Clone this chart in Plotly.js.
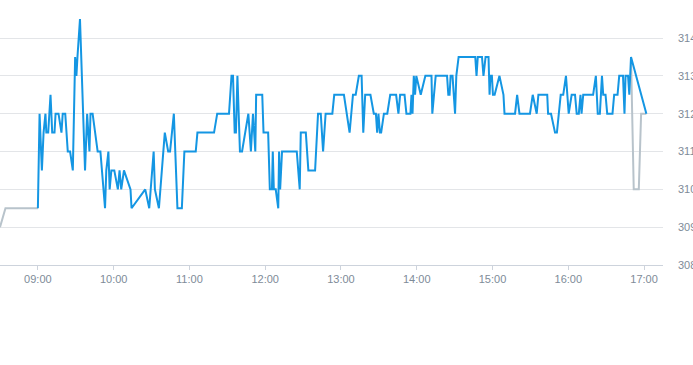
<!DOCTYPE html>
<html>
<head>
<meta charset="utf-8">
<script src="https://cdn.plot.ly/plotly-3.0.1.min.js"></script>
<style>html,body{margin:0;padding:0;background:#fff;}#chart{width:693px;height:365px;}</style>
</head>
<body>
<div id="chart"></div>
<script>
var day = "2024-01-02 ";

var sessionTimes = [
"09:00:00","09:01:20","09:03:10","09:04:30","09:06:00","09:06:40","09:08:10","09:10:00","09:11:20","09:13:10",
"09:14:00","09:16:20","09:18:40","09:19:40","09:21:40","09:23:40","09:25:30","09:27:40","09:29:30","09:30:30",
"09:31:20","09:33:20","09:37:20","09:39:00","09:40:50","09:41:40","09:43:20","09:47:20","09:49:30","09:53:10",
"09:54:10","09:55:50","09:56:50","09:58:10","10:00:30","10:03:20","10:04:40","10:06:00","10:08:10","10:13:20",
"10:14:10","10:25:00","10:28:10","10:31:40","10:32:40","10:35:50","10:40:30","10:43:10","10:44:40","10:47:40",
"10:50:30","10:54:00","10:56:00","11:05:00","11:06:20","11:19:30","11:22:00","11:31:20","11:33:20","11:34:30",
"11:35:50","11:36:50","11:38:00","11:40:00","11:41:40","11:46:40","11:48:40","11:50:20","11:52:10","11:52:50",
"11:57:40","11:58:40","12:02:20","12:03:40","12:05:20","12:06:00","12:06:50","12:08:20","12:10:20","12:11:00",
"12:11:50","12:13:20","12:25:00","12:27:20","12:28:10","12:32:10","12:34:10","12:39:30","12:41:50","12:44:00",
"12:45:50","12:47:50","12:53:10","12:54:40","13:02:20","13:06:50","13:09:30","13:11:40","13:14:10","13:16:20",
"13:17:40","13:19:10","13:23:20","13:26:00","13:27:40","13:28:40","13:29:40","13:30:50","13:31:50","13:34:00",
"13:36:40","13:39:00","13:43:40","13:45:30","13:46:50","13:50:20","13:51:50","13:55:00","13:55:50","13:56:40",
"13:57:40","13:58:40","13:59:40","14:03:10","14:06:50","14:11:40","14:12:20","14:15:00","14:24:00","14:25:00",
"14:26:00","14:26:50","14:28:20","14:30:20","14:31:20","14:33:10","14:46:20","14:47:20","14:48:20","14:51:40",
"14:52:50","14:54:30","14:56:50","14:57:40","14:58:20","14:59:30","15:00:20","15:01:40","15:05:30","15:08:40",
"15:09:30","15:17:50","15:19:30","15:21:20","15:29:40","15:31:50","15:35:00","15:36:20","15:43:20","15:44:00",
"15:46:20","15:49:30","15:51:00","15:54:00","15:56:00","15:58:10","16:00:20","16:02:40","16:05:20","16:06:40",
"16:08:20","16:09:40","16:10:30","16:11:50","16:19:40","16:21:50","16:23:20","16:25:00","16:26:40","16:27:40",
"16:29:30","16:30:50","16:35:00","16:36:20","16:39:00","16:40:20","16:43:20","16:44:30","16:45:20","16:47:20",
"16:48:20","16:49:40","17:01:50"
];
var sessionPrices = [
309.5,312,310.5,311.5,312,311.5,311.5,312.5,311.5,311.5,
312,312,311.5,312,312,311,311,310.5,313.5,313,
313.5,314.5,310.5,312,311,312,312,311,311,309.5,
310.5,311,310,310.5,310.5,310,310.5,310,310.5,310,
309.5,310,309.5,311,310,309.5,311.5,311,311,312,
309.5,309.5,311,311,311.5,311.5,312,312,313,313,
311.5,311.5,313,311,311,312,311,312,311,312.5,
312.5,311.5,311.5,310,310,311,310,310,309.5,311,
310,311,311,310,311.5,311.5,310.5,310.5,312,312,
311,312,312,312.5,312.5,311.5,312.5,312.5,313,313,
311.5,312.5,312.5,312,312,311.5,312,311.5,311.5,312,
312,312.5,312.5,312,312.5,312.5,312,312,312.5,312,
313,312.5,313,312.5,313,313,312,313,313,312.5,
312.5,313,313,312,313,313.5,313.5,313,313.5,313.5,
313,313.5,313.5,312.5,313,313,312.5,312.5,313,312.5,
312,312,312.5,312,312,312.5,312,312.5,312.5,312,
312,311.5,311.5,312.5,312.5,313,312,312.5,312.5,312,
312,312.5,312,312.5,312.5,313,312,312,313,312.5,
312.5,312,312,312.5,312.5,313,313,312,313,313,
312.5,313.5,312
];

var extTimes = ["08:30:00","08:34:20","09:00:00",null,"16:49:40","16:51:50","16:55:50","16:57:40","17:01:50"];
var extPrices = [309,309.5,309.5,null,313.5,310,310,312,312];

var tickVals = ["09:00","10:00","11:00","12:00","13:00","14:00","15:00","16:00","17:00"];
var yTicks = [308,309,310,311,312,313,314];

function toDate(t){ return t === null ? null : day + t; }

var traces = [
  {x: extTimes.map(toDate), y: extPrices, type: "scatter", mode: "lines",
   line: {color: "#b8c3cb", width: 2}, connectgaps: false, hoverinfo: "skip"},
  {x: sessionTimes.map(toDate), y: sessionPrices, type: "scatter", mode: "lines",
   line: {color: "#1496e3", width: 2}}
];

var layout = {
  width: 693, height: 365,
  margin: {l: 0, r: 30, t: 4, b: 100},
  paper_bgcolor: "#fff", plot_bgcolor: "#fff",
  showlegend: false,
  font: {family: "Liberation Sans, Arial, sans-serif", size: 11, color: "#7e8b98"},
  xaxis: {
    type: "date",
    range: [day + "08:30:00", day + "17:15:00"],
    tickvals: tickVals.map(function(t){ return day + t + ":00"; }),
    ticktext: tickVals,
    showgrid: false, zeroline: false,
    showline: true, linecolor: "#cdd3dc", linewidth: 1,
    ticks: "outside", ticklen: 4, tickcolor: "#cdd3dc", tickwidth: 1,
    tickfont: {size: 11, color: "#7e8b98"}
  },
  yaxis: {
    side: "right",
    range: [308, 314.9],
    tickvals: yTicks,
    showgrid: true, gridcolor: "#e3e5e8", gridwidth: 1,
    zeroline: false, showline: false, ticks: "",
    ticklabelstandoff: 14,
    tickfont: {size: 11, color: "#7e8b98"}
  }
};

Plotly.newPlot("chart", traces, layout, {displayModeBar: false, staticPlot: true});
</script>
</body>
</html>
